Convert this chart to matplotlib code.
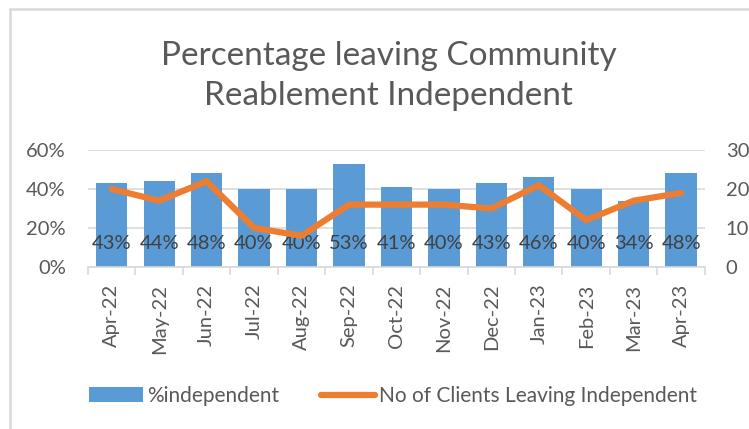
import matplotlib
matplotlib.use("Agg")
import matplotlib.pyplot as plt
from matplotlib.lines import Line2D
from matplotlib.patches import Patch, Rectangle
import numpy as np

months = ["Apr-22", "May-22", "Jun-22", "Jul-22", "Aug-22", "Sep-22", "Oct-22",
          "Nov-22", "Dec-22", "Jan-23", "Feb-23", "Mar-23", "Apr-23"]
pct_independent = [0.43, 0.44, 0.48, 0.40, 0.40, 0.53, 0.41,
                   0.40, 0.43, 0.46, 0.40, 0.34, 0.48]
clients_independent = [20, 17, 22, 10, 8, 16, 16, 16, 15, 21, 12, 17, 19]
left_ticks = [0, 0.2, 0.4, 0.6]
right_ticks = [0, 10, 20, 30]

BLUE = "#5B9BD5"
ORANGE = "#ED7D31"
TEXT = "#595959"
GRID = "#D9D9D9"

plt.rcParams['font.family'] = ['Lato', 'DejaVu Sans']


def main():
    fig = plt.figure(figsize=(7.49, 4.29), dpi=100)
    # chart area border (runs off the right and bottom edges like the source)
    fig.patches.append(Rectangle((0.0135, -0.05), 1.2, 1.029, transform=fig.transFigure,
                                 fill=False, edgecolor=GRID, linewidth=1.8))

    ax = fig.add_axes([0.1175, 0.378, 0.8235, 0.272])
    x = np.arange(len(months))
    ax.bar(x, pct_independent, width=0.66, color=BLUE, zorder=2)
    for xi, v in zip(x, pct_independent):
        ax.text(xi, 0.12, f"{v:.0%}", ha="center", va="center",
                fontsize=14.5, color="#404040", zorder=4)

    ax.set_ylim(0, 0.6)
    ax.set_xlim(-0.5, len(months) - 0.5)
    ax.set_yticks(left_ticks)
    ax.set_yticklabels([f"{t:.0%}" for t in left_ticks])
    ax.yaxis.grid(True, color=GRID, linewidth=1.2, zorder=0)
    ax.set_axisbelow(True)
    ax.set_xticks(x)
    ax.set_xticklabels(months, rotation=90)
    ax.set_xticks(np.arange(-0.5, len(months)), minor=True)
    ax.tick_params(axis="x", which="major", length=0, pad=12,
                   labelsize=14.5, labelcolor=TEXT)
    ax.tick_params(axis="x", which="minor", length=6, color=GRID, width=1.2)
    ax.tick_params(axis="y", length=0, pad=16, labelsize=14.5, labelcolor=TEXT)
    for s in ["top", "left", "right"]:
        ax.spines[s].set_visible(False)
    ax.spines["bottom"].set_color(GRID)
    ax.spines["bottom"].set_linewidth(1.2)

    ax2 = ax.twinx()
    ax2.plot(x, clients_independent, color=ORANGE, linewidth=4.5,
             solid_capstyle="round", zorder=3)
    ax2.set_ylim(0, 30)
    ax2.set_yticks(right_ticks)
    ax2.tick_params(axis="y", length=0, pad=15, labelsize=14.5, labelcolor=TEXT)
    for s in ax2.spines.values():
        s.set_visible(False)

    fig.text(0.519, 0.823, "Percentage leaving Community\nReablement Independent",
             ha="center", va="center", fontsize=24, color=TEXT,
             linespacing=1.42)

    handles = [Patch(facecolor=BLUE, label="%independent"),
               Line2D([0], [0], color=ORANGE, linewidth=4.5,
                      solid_capstyle="round",
                      label="No of Clients Leaving Independent")]
    fig.legend(handles=handles, loc="center", bbox_to_anchor=(0.525, 0.077),
               ncol=2, frameon=False, fontsize=15, labelcolor=TEXT,
               handlelength=2.6, handletextpad=0.2, columnspacing=2.0)

    fig.savefig("out.png", dpi=100)


if __name__ == "__main__":
    main()
